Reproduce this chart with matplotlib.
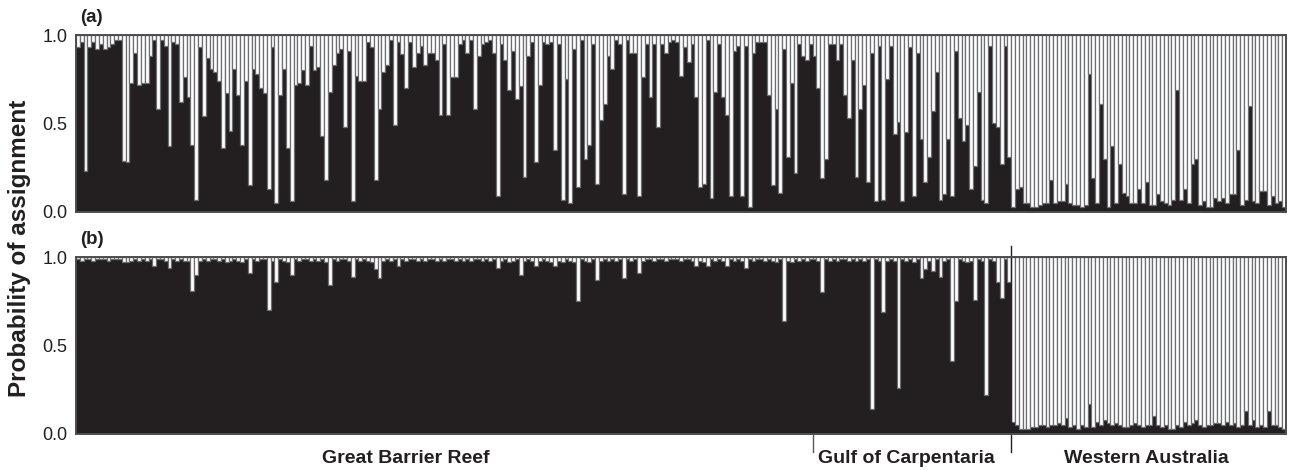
import numpy as np
import matplotlib
matplotlib.use("Agg")
import matplotlib.pyplot as plt

plt.rcParams['font.family'] = ['Liberation Sans', 'DejaVu Sans']

# probability of assignment to cluster 1 (dark), per individual
# panel (a)
gbr_a = [
    0.93, 0.96, 0.23, 0.93, 0.96, 0.92, 0.95, 0.92, 0.93, 0.95,
    0.97, 0.97, 0.29, 0.28, 0.73, 0.90, 0.72, 0.73, 0.73, 0.88,
    0.97, 0.58, 0.97, 0.94, 0.37, 0.96, 0.95, 0.62, 0.76, 0.65,
    0.38, 0.07, 0.93, 0.54, 0.87, 0.81, 0.79, 0.74, 0.36, 0.67,
    0.46, 0.81, 0.66, 0.38, 0.74, 0.15, 0.81, 0.78, 0.70, 0.67,
    0.13, 0.93, 0.05, 0.66, 0.81, 0.36, 0.06, 0.72, 0.73, 0.80,
    0.72, 0.94, 0.80, 0.82, 0.43, 0.18, 0.68, 0.83, 0.90, 0.92,
    0.48, 0.91, 0.06, 0.77, 0.74, 0.74, 0.96, 0.93, 0.18, 0.58,
    0.79, 0.83, 0.97, 0.49, 0.96, 0.89, 0.70, 0.96, 0.82, 0.90,
    0.94, 0.83, 0.90,
    0.90, 0.86, 0.55, 0.95, 0.55, 0.76, 0.76, 0.95, 0.97, 0.90,
    0.97, 0.58, 0.88, 0.95, 0.96, 0.97, 0.90, 0.09, 0.95, 0.86,
    0.69, 0.91, 0.64, 0.71, 0.20, 0.88, 0.96, 0.28, 0.72, 0.96,
    0.95, 0.96, 0.35, 0.95, 0.07, 0.75, 0.05, 0.92, 0.14, 0.97,
    0.30, 0.38, 0.95, 0.16, 0.52, 0.61, 0.88, 0.81, 0.97, 0.95,
    0.10, 0.97, 0.90, 0.90, 0.09, 0.76, 0.95, 0.65, 0.95, 0.48,
    0.95, 0.90, 0.96, 0.97, 0.96, 0.77, 0.93, 0.85, 0.95, 0.65,
    0.14, 0.16, 0.97, 0.08, 0.68, 0.95, 0.65, 0.55, 0.09, 0.91,
    0.94, 0.09, 0.94, 0.03, 0.90, 0.96, 0.96, 0.96, 0.66, 0.15,
    0.58, 0.11, 0.92, 0.31, 0.73, 0.22, 0.95, 0.88, 0.86, 0.95,
]
goc_a = [
    0.88, 0.70, 0.19, 0.30, 0.95, 0.95, 0.86, 0.95, 0.66, 0.53,
    0.86, 0.20, 0.58,
    0.72, 0.17, 0.90, 0.06, 0.94, 0.07, 0.75, 0.94, 0.44, 0.51,
    0.06, 0.45, 0.93, 0.09, 0.90, 0.41, 0.17, 0.31, 0.57, 0.79,
    0.07, 0.10, 0.41, 0.09, 0.91, 0.53, 0.40, 0.49, 0.13, 0.26,
    0.68, 0.07, 0.05, 0.94, 0.50, 0.48, 0.27, 0.94, 0.31,
]
wa_a = [
    0.03, 0.13, 0.14, 0.05, 0.05, 0.03, 0.03, 0.04, 0.05, 0.05,
    0.18, 0.05, 0.06, 0.06, 0.16, 0.05, 0.04, 0.04, 0.03, 0.04,
    0.78, 0.19, 0.05, 0.61, 0.30, 0.03, 0.37, 0.05, 0.27, 0.11,
    0.09, 0.05, 0.05, 0.13, 0.05, 0.17, 0.04, 0.04, 0.10, 0.06,
    0.05, 0.04, 0.07, 0.69, 0.07, 0.13, 0.05, 0.27, 0.30, 0.04,
    0.06, 0.03, 0.03, 0.08, 0.06, 0.08, 0.05, 0.10, 0.10, 0.35,
    0.04, 0.07, 0.60, 0.06, 0.05, 0.12, 0.12, 0.04, 0.09, 0.05,
    0.06, 0.03,
]

# panel (b)
gbr_b = [
    0.99, 0.98, 0.99, 0.99, 0.98, 0.99, 0.99, 0.99, 0.98, 0.99,
    0.99, 0.99, 0.97, 0.97, 0.98, 0.99, 0.98, 0.99, 0.98, 0.99,
    0.95, 0.99, 0.99, 0.98, 0.94, 0.99, 0.98, 0.99, 0.98, 0.98,
    0.81, 0.90, 0.98, 0.99, 0.98, 0.99, 0.99, 0.98, 0.99, 0.97,
    0.98, 0.99, 0.98, 0.97, 0.99, 0.91, 0.99, 0.98, 0.99, 0.99,
    0.70, 0.98, 0.86, 0.99, 0.98, 0.97, 0.90, 0.99, 0.98, 0.99,
    0.99, 0.98, 0.99, 0.98, 0.99, 0.97, 0.84, 0.99, 0.98, 0.99,
    0.99, 0.98, 0.89, 0.99, 0.98, 0.99, 0.98, 0.97, 0.93, 0.88,
    0.98, 0.99, 0.98, 0.99, 0.95, 0.99, 0.98, 0.99, 0.99, 0.98,
    0.99, 0.98, 0.99, 0.99, 0.98, 0.99, 0.98, 0.99, 0.99, 0.98,
    0.99, 0.98, 0.99, 0.98, 0.99, 0.99, 0.98, 0.99, 0.98, 0.99,
    0.94, 0.98, 0.99, 0.97, 0.98, 0.99, 0.90, 0.98, 0.99, 0.98,
    0.95, 0.98, 0.99, 0.98, 0.97, 0.95, 0.98, 0.97, 0.99, 0.98,
    0.97, 0.75, 0.99, 0.98, 0.97, 0.99, 0.87, 0.98, 0.99, 0.98,
    0.99, 0.98, 0.99, 0.88, 0.99, 0.98, 0.99, 0.91, 0.98, 0.99,
    0.99, 0.98, 0.99, 0.99, 0.98, 0.99, 0.99, 0.99, 0.98, 0.99,
    0.99, 0.98, 0.95, 0.98, 0.97, 0.95, 0.99, 0.98, 0.99, 0.98,
    0.95, 0.99, 0.98, 0.99, 0.98, 0.94, 0.99, 0.98, 0.99, 0.99,
    0.98, 0.99, 0.98, 0.97, 0.99, 0.64, 0.98, 0.97, 0.99, 0.98,
    0.99, 0.98, 0.99,
]
goc_b = [
    0.99, 0.98, 0.80, 0.99, 0.98, 0.99, 0.98, 0.99, 0.99, 0.98,
    0.99, 0.98, 0.99, 0.98, 0.99, 0.14, 0.99, 0.98, 0.69, 0.98,
    0.99, 0.98, 0.26, 0.99, 0.98, 0.99, 0.97, 0.99, 0.88, 0.93,
    0.98, 0.92, 0.99, 0.89, 0.98, 0.99, 0.41, 0.75, 0.99, 0.98,
    0.97, 0.98, 0.76, 0.99, 0.98, 0.22, 0.99, 0.98, 0.86, 0.77,
    0.99, 0.86,
]
wa_b = [
    0.07, 0.05, 0.03, 0.03, 0.03, 0.04, 0.04, 0.05, 0.05, 0.04,
    0.05, 0.05, 0.06, 0.05, 0.09, 0.04, 0.05, 0.03, 0.05, 0.04,
    0.17, 0.04, 0.07, 0.05, 0.08, 0.06, 0.05, 0.06, 0.05, 0.04,
    0.04, 0.05, 0.06, 0.05, 0.04, 0.05, 0.05, 0.10, 0.05, 0.04,
    0.05, 0.03, 0.03, 0.05, 0.04, 0.07, 0.05, 0.06, 0.08, 0.05,
    0.04, 0.05, 0.05, 0.06, 0.06, 0.05, 0.07, 0.05, 0.06, 0.04,
    0.05, 0.13, 0.05, 0.08, 0.04, 0.05, 0.04, 0.13, 0.05, 0.05,
    0.04, 0.03,
]

regions = ["Great Barrier Reef", "Gulf of Carpentaria", "Western Australia"]

DARK = "#231f20"
EDGE = "#6d6e71"

fig = plt.figure(figsize=(12.9, 4.7), dpi=100)
ax_a = fig.add_axes([0.0589, 0.549, 0.938, 0.3765])
ax_b = fig.add_axes([0.0589, 0.0766, 0.938, 0.3765])

for ax, groups in [(ax_a, (gbr_a, goc_a, wa_a)), (ax_b, (gbr_b, goc_b, wa_b))]:
    q = np.array(sum(groups, []))
    x = np.arange(len(q))
    ax.bar(x, q, width=1.0, color=DARK, edgecolor=DARK, linewidth=0.3)
    ax.bar(x, 1 - q, bottom=q, width=1.0, color="white", edgecolor=EDGE, linewidth=0.9)
    ax.set_xlim(-0.5, len(q) - 0.5)
    ax.set_ylim(0, 1)
    ax.set_xticks([])
    ax.set_yticks([0, 0.5, 1.0])
    ax.set_yticklabels(["0.0", "0.5", "1.0"])
    ax.tick_params(axis="y", length=0, pad=6, labelsize=13, labelcolor=DARK)
    for s in ax.spines.values():
        s.set_color("#4d4d4f")
        s.set_linewidth(1.4)

# region boundaries and labels under panel (b)
n1 = len(gbr_b)
n2 = n1 + len(goc_b)
ax_b.plot([n1 - 0.5, n1 - 0.5], [0, -0.1], color="#58595b", lw=1, clip_on=False)
ax_b.plot([n2 - 0.5, n2 - 0.5], [1.06, -0.1], color="#231f20", lw=1, clip_on=False)
ax_b.text(86, -0.14, regions[0], ha="center", va="center", fontsize=14,
          fontweight="bold", color=DARK)
ax_b.text(n1 + 1, -0.14, regions[1], ha="left", va="center", fontsize=14,
          fontweight="bold", color=DARK)
ax_b.text(280, -0.14, regions[2], ha="center", va="center", fontsize=14,
          fontweight="bold", color=DARK)

fig.text(80 / 1290, 1 - 18 / 470, "(a)", fontsize=13.5, fontweight="bold", color=DARK,
         va="center")
fig.text(80 / 1290, 1 - 240 / 470, "(b)", fontsize=13.5, fontweight="bold", color=DARK,
         va="center")
fig.text(20 / 1290, 1 - 248 / 470, "Probability of assignment", rotation=90,
         fontsize=17.5, fontweight="bold", color=DARK, ha="center", va="center")

fig.savefig("out.png", dpi=100)
